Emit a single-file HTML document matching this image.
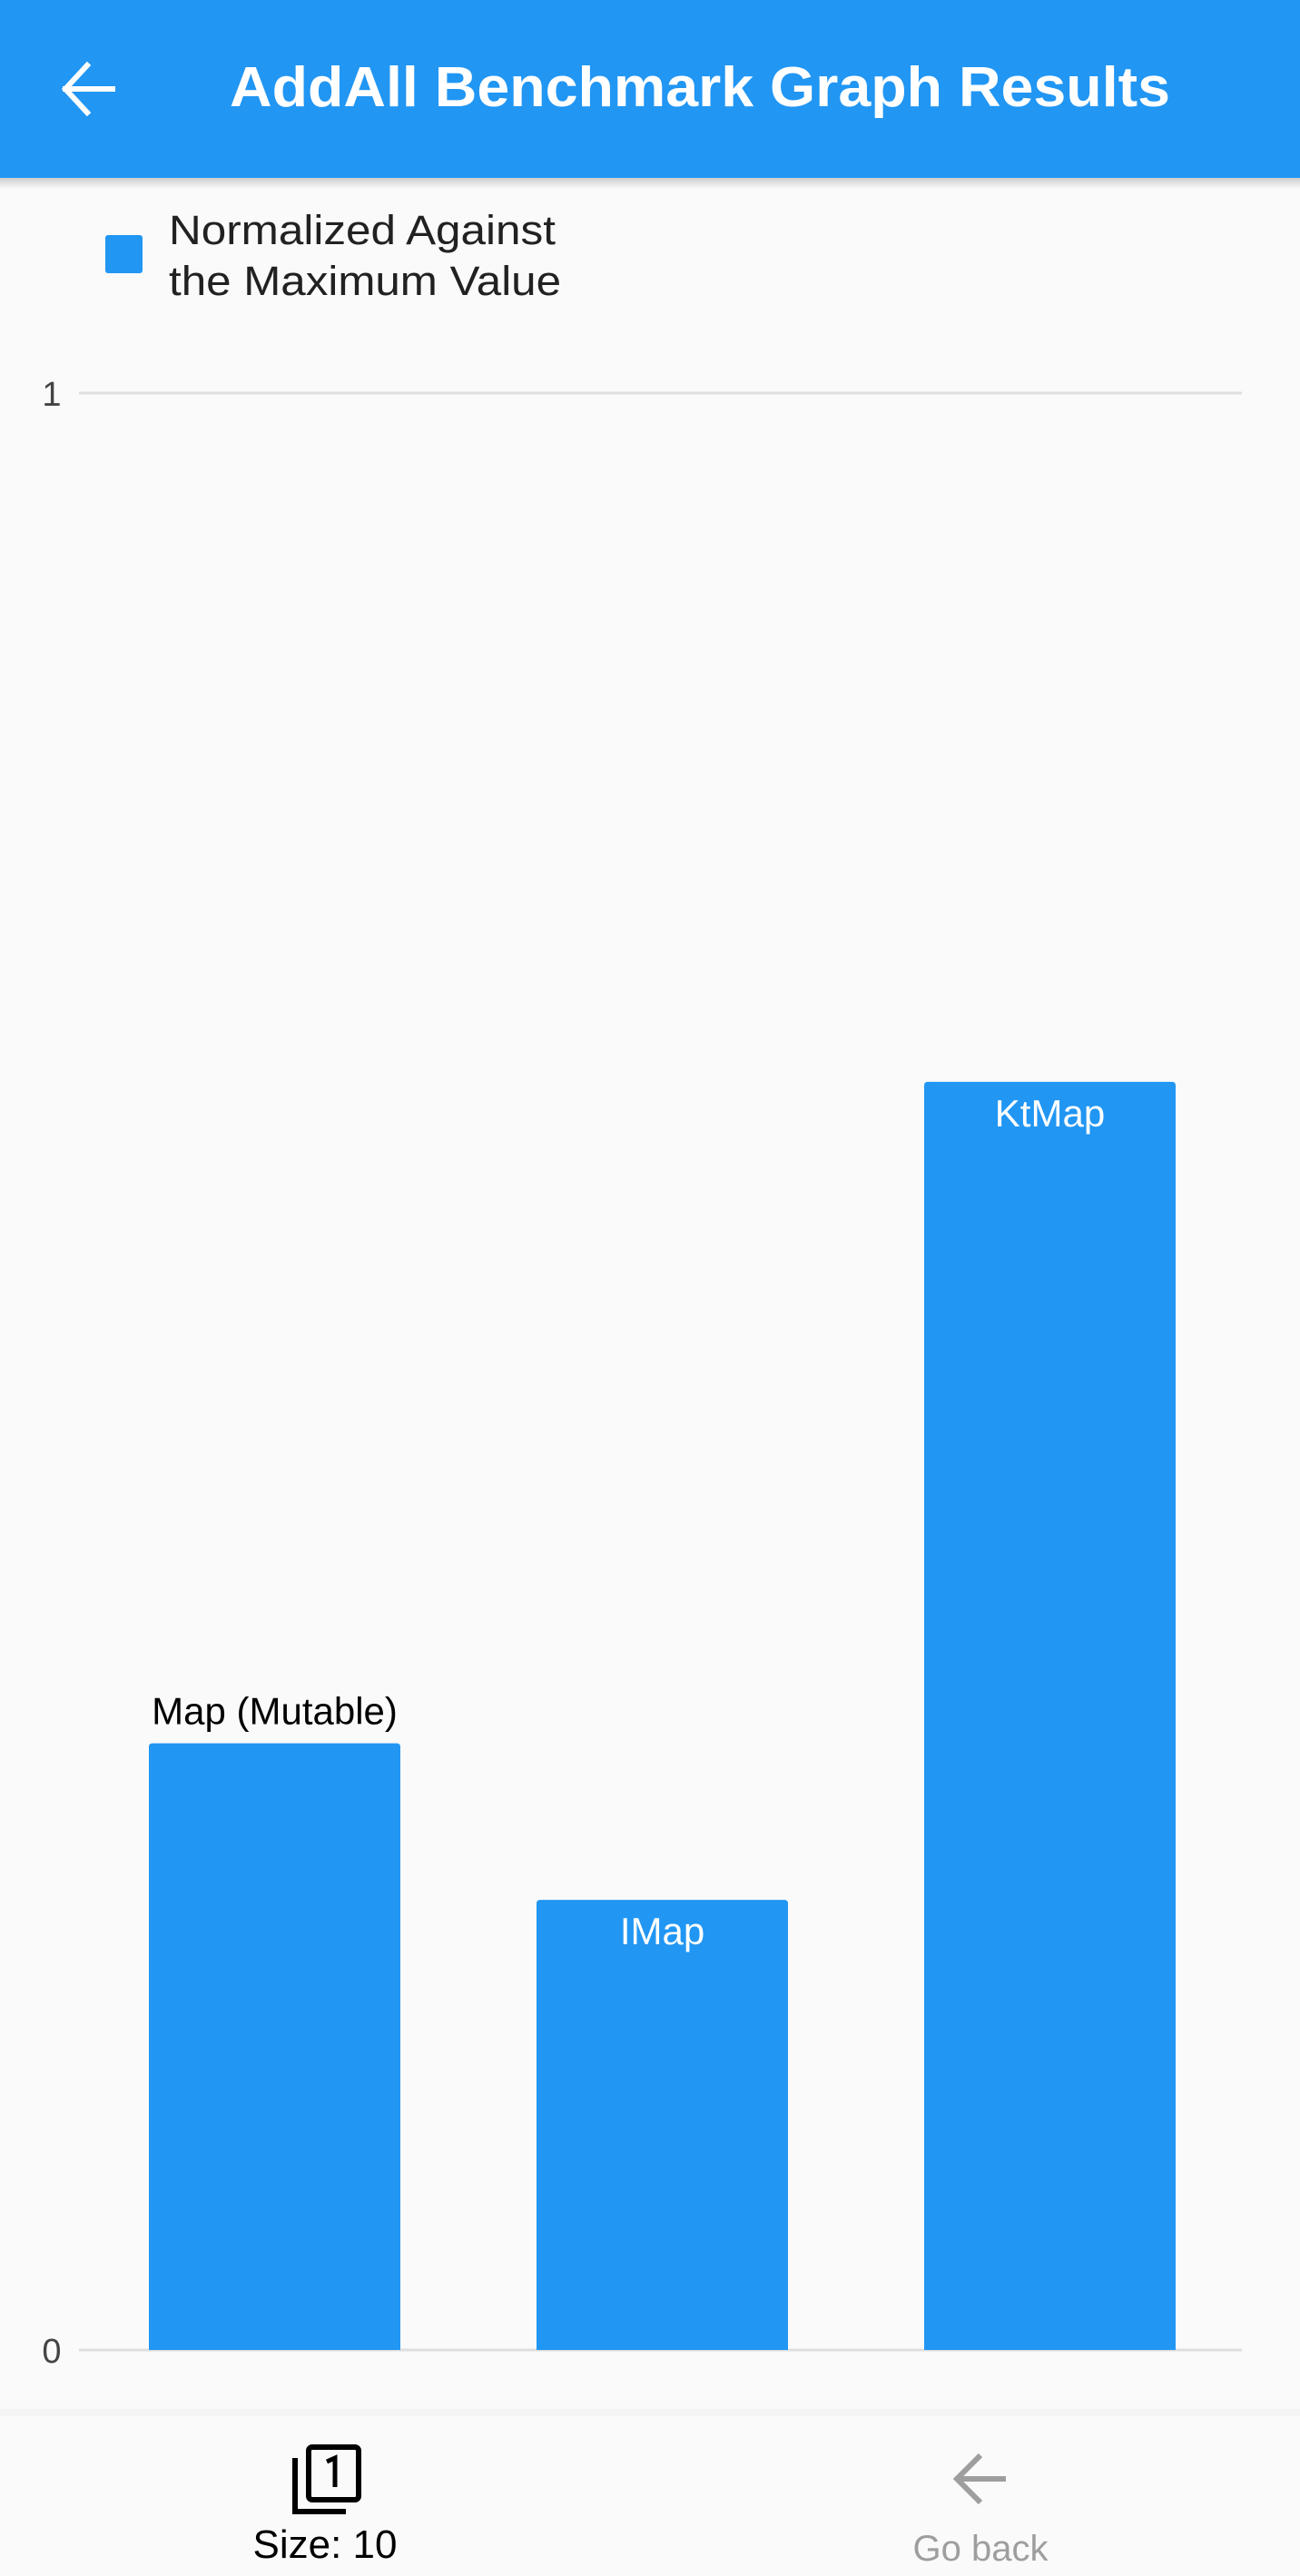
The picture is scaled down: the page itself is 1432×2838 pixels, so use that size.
<!DOCTYPE html>
<html><head><meta charset="utf-8"><style>
html,body{margin:0;padding:0;background:#fafafa;}
svg{display:block;font-family:"Liberation Sans",sans-serif;}
</style></head><body>
<svg id="page" width="1432" height="2838" viewBox="0 0 1432 2838">
  <rect x="0" y="0" width="1432" height="2838" fill="#fafafa"/>
  <defs>
    <linearGradient id="sh" x1="0" y1="0" x2="0" y2="1"><stop offset="0" stop-color="#000" stop-opacity="0.18"/><stop offset="1" stop-color="#000" stop-opacity="0"/></linearGradient>
  </defs>
  <g>
    <rect x="0" y="0" width="1432" height="196" fill="#2196F3"/>
    <rect x="0" y="196" width="1432" height="12" fill="url(#sh)"/>
    <g stroke="#fff" stroke-width="6" fill="none" stroke-linecap="square">
      <line x1="72" y1="98" x2="124" y2="98"/>
      <polyline points="96,72 72,98 96,124"/>
    </g>
    <text x="771" y="117" fill="#fff" font-size="62" font-weight="bold" text-anchor="middle" textLength="1036" lengthAdjust="spacingAndGlyphs">AddAll Benchmark Graph Results</text>
  </g>
  <g>
    <rect x="116" y="259" width="41" height="42" rx="3" fill="#2196F3"/>
    <text font-size="45" fill="#212121"><tspan x="186" y="269" textLength="426" lengthAdjust="spacingAndGlyphs">Normalized Against</tspan><tspan x="186" y="325" textLength="432" lengthAdjust="spacingAndGlyphs">the Maximum Value</tspan></text>
  </g>
  <g id="chart"></g>
  <g>
    <rect x="0" y="2654" width="1432" height="8" fill="#f4f4f4"/>
    <rect x="0" y="2662" width="1432" height="176" fill="#fafafa"/>
    <g>
      <g fill="none" stroke="#000" stroke-width="6">
        <rect x="340" y="2696" width="55" height="58" rx="4"/>
        <polyline points="325,2708 325,2767 381,2767"/>
        <polyline points="360,2712 369,2708 369,2740" stroke-width="5"/>
      </g>
      <text x="358" y="2818" font-size="44" text-anchor="middle" fill="#000">Size: 10</text>
    </g>
    <g>
      <g stroke="#9e9e9e" stroke-width="6" fill="none">
        <line x1="1054" y1="2731" x2="1108" y2="2731"/>
        <polyline points="1080,2705 1054,2731 1080,2757"/>
      </g>
      <text x="1080" y="2821" font-size="40" text-anchor="middle" fill="#9e9e9e">Go back</text>
    </g>
  </g>
</svg>
<script>
const categories = ["Map (Mutable)", "IMap", "KtMap"];
const values = [0.310, 0.230, 0.648];
const tickValues = [0, 1];
const tickLabels = ["0", "1"];

const NS = "http://www.w3.org/2000/svg";
const chart = document.getElementById("chart");
const plotLeft = 87, plotRight = 1368, plotTop = 433, plotBottom = 2589;
function yScale(v){ return plotBottom - v * (plotBottom - plotTop); }
const band = (plotRight - plotLeft) / categories.length;
const barW = 277;
function xCenter(i){ return plotLeft + band * (i + 0.5) + 2; }

tickValues.forEach(function(t, i){
  const y = yScale(t);
  const ln = document.createElementNS(NS, "rect");
  
  
  ln.setAttribute("x", plotLeft); ln.setAttribute("y", y - 1.5);
  ln.setAttribute("width", plotRight - plotLeft); ln.setAttribute("height", 3);
  ln.setAttribute("fill", "#dedede");
  chart.appendChild(ln);
  const tx = document.createElementNS(NS, "text");
  
  
  tx.setAttribute("x", 57); tx.setAttribute("y", y + 14);
  tx.setAttribute("font-size", "38"); tx.setAttribute("fill", "#444");
  tx.setAttribute("text-anchor", "middle");
  tx.textContent = tickLabels[i];
  chart.appendChild(tx);
});

categories.forEach(function(c, i){
  const cx = xCenter(i);
  const top = yScale(values[i]);
  const bar = document.createElementNS(NS, "path");
  
  
  const x0 = cx - barW / 2, r = 4;
  bar.setAttribute("d", "M" + x0 + "," + plotBottom + "V" + (top + r) + "Q" + x0 + "," + top + " " + (x0 + r) + "," + top +
    "H" + (x0 + barW - r) + "Q" + (x0 + barW) + "," + top + " " + (x0 + barW) + "," + (top + r) + "V" + plotBottom + "Z");
  bar.setAttribute("fill", "#2196F3");
  chart.appendChild(bar);
  const lbl = document.createElementNS(NS, "text");
  
  
  lbl.setAttribute("x", cx);
  lbl.setAttribute("font-size", "42");
  lbl.setAttribute("text-anchor", "middle");
  if (i === 0) {
    lbl.setAttribute("y", top - 21);
    lbl.setAttribute("fill", "#000");
  } else {
    lbl.setAttribute("y", top + 49);
    lbl.setAttribute("fill", "#fff");
  }
  lbl.textContent = c;
  chart.appendChild(lbl);
});
</script>
</body></html>
